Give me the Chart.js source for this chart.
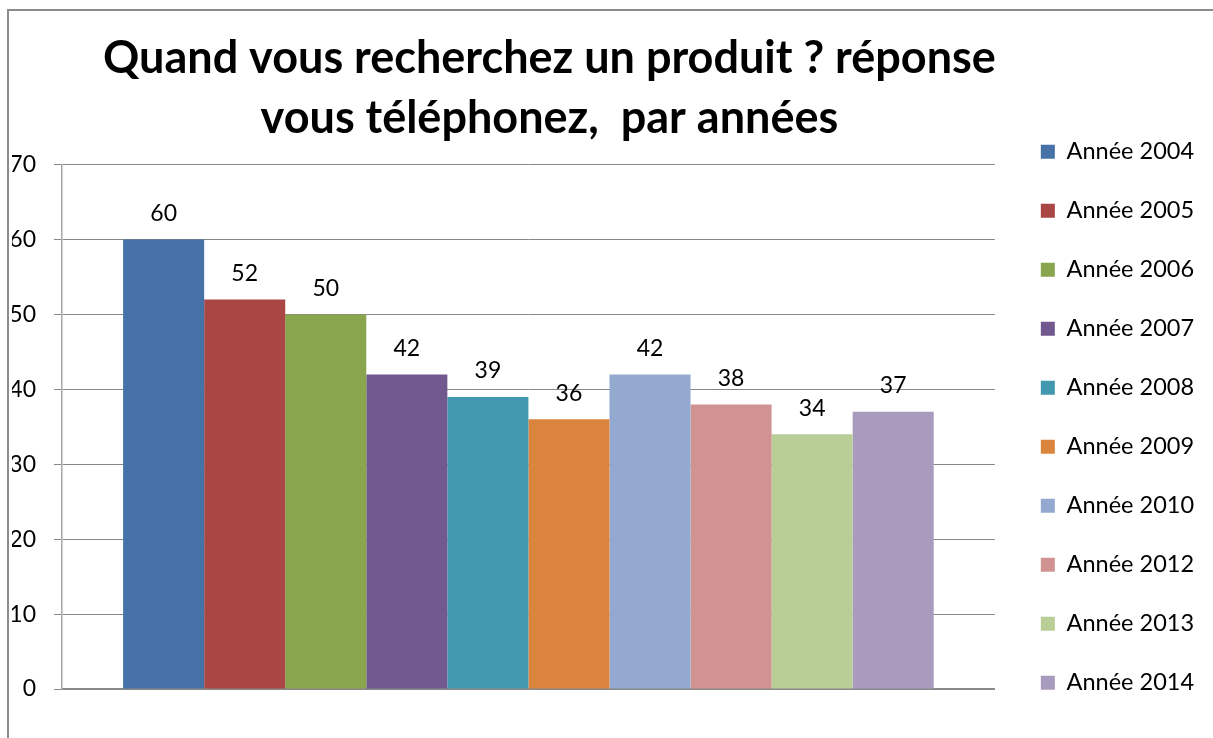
<!DOCTYPE html>
<html>
<head>
<meta charset="utf-8">
<script src="https://cdn.jsdelivr.net/npm/chart.js@4.4.1/dist/chart.umd.min.js"></script>
<style>
  html, body { margin: 0; padding: 0; background: #ffffff; }
  #wrap { position: relative; width: 1213px; height: 738px; overflow: hidden; }
  #frame { position: absolute; left: 7px; top: 9px; width: 1300px; height: 800px;
           border-left: 2px solid #8c8c8c; border-top: 2px solid #8c8c8c; }
  canvas { position: absolute; left: 0; top: 0; }
</style>
</head>
<body>
<div id="wrap">
  <div id="frame"></div>
  <canvas id="c" width="1213" height="738"></canvas>
</div>
<script>
const titleLines = ["Quand vous recherchez un produit ? réponse", "vous téléphonez,  par années"];
const categories = [""];
const seriesNames = ["Année 2004", "Année 2005", "Année 2006", "Année 2007", "Année 2008",
                     "Année 2009", "Année 2010", "Année 2012", "Année 2013", "Année 2014"];
const seriesValues = [60, 52, 50, 42, 39, 36, 42, 38, 34, 37];
const seriesColors = ["#4672A8", "#AA4643", "#89A54E", "#71588F", "#4198AF",
                      "#DB843D", "#93A9CF", "#D19392", "#B9CD96", "#A99BBD"];
const yTicks = { min: 0, max: 70, step: 10 };

const FONT = "Lato, 'Open Sans', sans-serif";

const datasets = seriesNames.map((name, i) => ({
  label: name,
  data: [seriesValues[i]],
  backgroundColor: seriesColors[i],
  borderWidth: 0,
  yAxisID: 'y'
}));

const valueLabels = {
  id: 'valueLabels',
  afterDatasetsDraw(chart) {
    const ctx = chart.ctx;
    ctx.save();
    ctx.font = "23px " + FONT;
    ctx.fillStyle = "#000";
    ctx.textAlign = "center";
    ctx.textBaseline = "middle";
    chart.data.datasets.forEach((ds, i) => {
      const meta = chart.getDatasetMeta(i);
      meta.data.forEach((bar, j) => {
        ctx.fillText(String(ds.data[j]), bar.x, bar.y - 26);
      });
    });
    ctx.restore();
  }
};

const titleShift = {
  id: 'titleShift',
  afterLayout(chart) {
    const t = chart.titleBlock;
    if (t) { t.left += 21; t.right += 21; }
  }
};

new Chart(document.getElementById('c'), {
  type: 'bar',
  data: { labels: categories, datasets: datasets },
  plugins: [valueLabels, titleShift],
  options: {
    responsive: false,
    animation: false,
    layout: { padding: { left: 12, right: 9, top: 0, bottom: 8 } },
    datasets: { bar: { categoryPercentage: 0.869, barPercentage: 1.0 } },
    plugins: {
      title: {
        display: true,
        text: titleLines,
        fullSize: false,
        color: '#000',
        font: { family: FONT, size: 45, weight: 'bold', lineHeight: 1.33 },
        padding: { top: 29, bottom: 16 }
      },
      legend: {
        display: true,
        position: 'right',
        align: 'end',
        fullSize: true,
        labels: {
          color: '#000',
          font: { family: FONT, size: 23.5 },
          boxWidth: 14,
          boxHeight: 14,
          padding: 35.5
        }
      },
      tooltip: { enabled: false }
    },
    scales: {
      x: {
        grid: { display: false },
        border: { display: true, color: '#8a8a8a', width: 1.5 },
        ticks: { display: false },
        afterFit(scale) { scale.height = 41; }
      },
      y: {
        min: yTicks.min,
        max: yTicks.max,
        ticks: { stepSize: yTicks.step, color: '#000', padding: 18,
                 font: { family: FONT, size: 23 } },
        grid: { color: '#878787', lineWidth: 1, tickLength: 8, drawTicks: true },
        border: { display: true, color: '#a6a6a6', width: 1.5 },
        afterFit(scale) { scale.width = 50; }
      },
      gap: {
        type: 'linear',
        position: 'right',
        display: true,
        grid: { display: false },
        border: { display: false },
        ticks: { display: false },
        afterFit(scale) { scale.width = 10.5; }
      }
    }
  }
});
</script>
</body>
</html>
